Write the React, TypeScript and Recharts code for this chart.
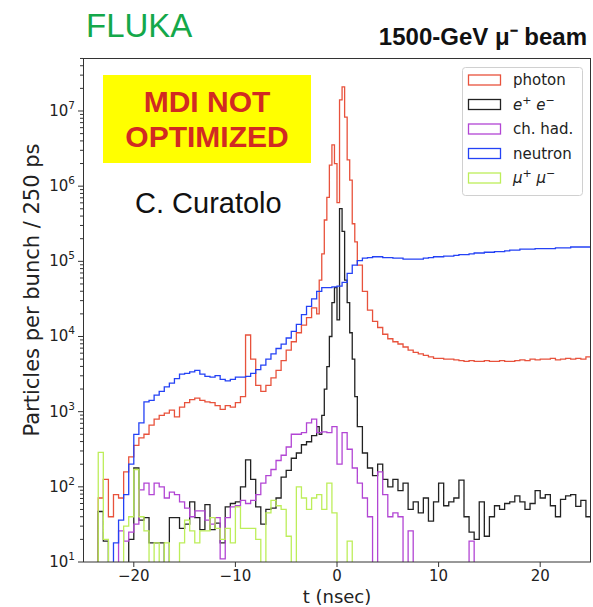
import { Line, LineChart, XAxis, YAxis } from "recharts";

const FONT = "'DejaVu Sans', sans-serif";
const ARIAL = "'Liberation Sans', Arial, sans-serif";

// 0.5 ns bins from -25 to 25 ns (100 bins); zero bins drop to the log floor
const T_START = -25;
const T_END = 25;
const BIN = 0.5;
// photon and e+e- peaks are read at 0.25 ns in [-2, 2)
const FINE_START = -2;
const FINE_END = 2;
const FINE_BIN = 0.25;

const Y_MIN = 10;
const Y_MAX = 5.07e7;
const X_TICKS = [-20, -10, 0, 10, 20];

const photon = [
  0, 0, 0, 71, 126, 40, 79, 71, 158, 251,
  355, 447, 501, 661, 794, 891, 955, 1047, 851, 1148,
  1318, 1445, 1514, 1413, 1349, 1318, 1202, 1072, 1202, 1148,
  1318, 1585, 10470, 5012, 2239, 1862, 2239, 2818, 3548, 4786,
  6607, 8511, 11220, 14130, 17780, 23990, null, null, null, null,
  null, null, null, null, 89130, 39810, 22390, 15850, 13180, 10720,
  9330, 8511, 7943, 7244, 6607, 6166, 5888, 5623, 5370, 5129,
  5129, 5012, 5012, 4898, 4786, 4677, 4786, 4677, 4677, 4786,
  4677, 4677, 4786, 4677, 4677, 4786, 4898, 4786, 5012, 4898,
  5012, 5012, 5129, 4898, 5012, 5129, 5012, 5129, 5012, 5370,
];
const photonPeak = [
  19950, 56230, 125900, 354800, 708000, 1.9e6, 3.55e6, 2.0e6,
  603000, 1.41e7, 2.09e7, 8.3e6, 2.24e6, 1.2e6, 316000, 182000,
];

const electrons = [
  0, 0, 0, 47, 19, 0, 0, 0, 0, 20,
  178, 36, 39, 18, 18, 18, 0, 39, 39, 28,
  32, 63, 39, 27, 58, 27, 33, 18, 54, 60,
  63, 100, 229, 126, 54, 32, 50, 52, 71, 135,
  166, 240, 282, 363, 398, 479, null, null, null, null,
  null, null, null, null, 631, 282, 178, 141, 200, 126,
  100, 126, 89, 112, 50, 63, 45, 71, 35, 63,
  112, 56, 63, 71, 123, 40, 25, 20, 63, 22,
  40, 56, 50, 60, 63, 76, 63, 50, 60, 89,
  71, 79, 56, 40, 68, 76, 79, 55, 66, 40,
];
const electronsPeak = [
  631, 501, 891, 1995, 3981, 10000, 28180, 44670,
  16600, 501000, 251000, 56230, 28180, 11220, 5012, 1585,
];

const hadrons = [
  0, 0, 0, 0, 0, 0, 0, 26, 19, 25,
  32, 91, 112, 79, 112, 100, 71, 85, 79, 63,
  52, 40, 48, 48, 36, 32, 39, 11, 39, 54,
  56, 66, 60, 66, 79, 112, 141, 170, 224, 263,
  339, 501, 501, 525, 708, 794, 525, 537, 525, 631,
  200, 525, 316, 178, 112, 71, 40, 0, 158, 79,
  40, 45, 40, 0, 26, 0, 0, 0, 0, 0,
  0, 0, 0, 0, 0, 0, 19, 0, 0, 0,
  0, 0, 0, 0, 0, 0, 0, 0, 0, 0,
  0, 0, 0, 0, 0, 0, 0, 0, 0, 0,
];

const neutrons = [
  0, 0, 0, 0, 0, 0, 18, 36, 79, 200,
  500, 710, 1350, 1410, 1660, 1860, 2140, 2400, 2750, 3160,
  3240, 3390, 3550, 3160, 2950, 2880, 3020, 2690, 2570, 2690,
  2880, 2880, 2950, 3240, 3630, 4170, 5010, 5890, 6920, 7940,
  9550, 11700, 14500, 19500, 25100, 31600, 39800, 44700, 44700, 45700,
  46800, 52500, 69200, 89100, 102000, 110000, 112000, 115000, 115000, 112000,
  112000, 110000, 110000, 107000, 107000, 107000, 107000, 110000, 112000, 115000,
  115000, 117000, 117000, 120000, 123000, 123000, 126000, 129000, 129000, 132000,
  132000, 135000, 135000, 138000, 141000, 141000, 145000, 145000, 145000, 148000,
  148000, 148000, 148000, 151000, 151000, 151000, 155000, 155000, 155000, 155000,
];

const muons = [
  0, 0, 0, 288, 20, 0, 0, 0, 30, 40,
  170, 40, 26, 0, 18, 0, 18, 0, 0, 18,
  36, 26, 18, 26, 26, 39, 28, 20, 28, 18,
  54, 28, 28, 28, 20, 0, 45, 66, 56, 50,
  22, 0, 100, 71, 50, 71, 79, 50, 112, 45,
  0, 0, 19, 0, 0, 0, 0, 0, 0, 0,
  0, 0, 0, 0, 0, 0, 0, 0, 0, 0,
  0, 0, 0, 0, 0, 0, 0, 0, 0, 0,
  0, 0, 0, 0, 0, 0, 0, 0, 0, 0,
  0, 0, 0, 0, 0, 0, 0, 0, 0, 0,
];

const SERIES = [
  { name: "photon", color: "#e8523c", data: photon, peak: photonPeak },
  { name: "ee", color: "#222222", data: electrons, peak: electronsPeak },
  { name: "had", color: "#b245d4", data: hadrons },
  { name: "neutron", color: "#2442f5", data: neutrons },
  { name: "mu", color: "#bdee5a", data: muons },
];

type Pt = { t: number; v: number };

// histogram outline: one point per bin start, then down to the floor at the right edge
function toSteps(coarse: (number | null)[], peak?: number[]): Pt[] {
  const pts: Pt[] = [];
  const floor = (v: number) => (v > 0 ? v : 1);
  coarse.forEach((v, i) => {
    const t = T_START + i * BIN;
    if (peak && t >= FINE_START && t < FINE_END) {
      if (t === FINE_START) {
        peak.forEach((p, j) => pts.push({ t: FINE_START + j * FINE_BIN, v: floor(p) }));
      }
      return;
    }
    pts.push({ t, v: floor(v ?? 0) });
  });
  const last = pts[pts.length - 1].v;
  pts.push({ t: T_END, v: last }, { t: T_END, v: 1 });
  return pts;
}

const yTicks: number[] = [];
for (let d = 1; d <= 7; d++) {
  for (let m = 1; m <= 9; m++) {
    const v = m * Math.pow(10, d);
    if (v <= Y_MAX) yTicks.push(v);
  }
}

const fmtX = (v: number) => (v < 0 ? `\u2212${Math.abs(v)}` : String(v));

function LogTick(props: any) {
  const { x, y, payload } = props;
  const lg = Math.log10(payload.value);
  const e = Math.round(lg);
  const major = Math.abs(lg - e) < 1e-6;
  return (
    <g>
      <line x1={x - (major ? 5 : 3)} x2={x} y1={y} y2={y} stroke="#333" strokeWidth={1} />
      {major && (
        <text x={x - 8} y={y + 5} textAnchor="end" fontSize={15} fontFamily={FONT} fill="#222">
          10
          <tspan dy={-7} fontSize={10.5}>
            {e}
          </tspan>
        </text>
      )}
    </g>
  );
}

const LEGEND = [
  { key: "photon", label: <tspan>photon</tspan> },
  {
    key: "ee",
    label: (
      <>
        <tspan fontStyle="italic">e</tspan>
        <tspan dy={-6} fontSize={11}>+</tspan>
        <tspan dy={6}> </tspan>
        <tspan fontStyle="italic">e</tspan>
        <tspan dy={-6} fontSize={11}>{"\u2212"}</tspan>
      </>
    ),
  },
  { key: "had", label: <tspan>ch. had.</tspan> },
  { key: "neutron", label: <tspan>neutron</tspan> },
  {
    key: "mu",
    label: (
      <>
        <tspan fontStyle="italic">{"\u03bc"}</tspan>
        <tspan dy={-6} fontSize={11}>+</tspan>
        <tspan dy={6}> </tspan>
        <tspan fontStyle="italic">{"\u03bc"}</tspan>
        <tspan dy={-6} fontSize={11}>{"\u2212"}</tspan>
      </>
    ),
  },
];

export default function App() {
  const colorOf = (k: string) => SERIES.find((s) => s.name === k)!.color;
  return (
    <div style={{ position: "absolute", left: 0, top: 0, width: 593, height: 607, background: "#fff" }}>
      <LineChart width={593} height={607} margin={{ top: 58, right: 2, bottom: 0, left: 0 }}>
        <XAxis
          type="number"
          dataKey="t"
          domain={[T_START, T_END]}
          ticks={X_TICKS}
          tickFormatter={fmtX}
          allowDataOverflow
          axisLine={false}
          tickSize={5}
          tickMargin={3}
          height={45}
          tick={{ fontSize: 15, fontFamily: FONT, fill: "#222" }}
          tickLine={{ stroke: "#333" }}
        />
        <YAxis
          scale="log"
          domain={[Y_MIN, Y_MAX]}
          ticks={yTicks}
          interval={0}
          allowDataOverflow
          axisLine={false}
          tickLine={false}
          tickSize={0}
          tickMargin={0}
          width={83}
          tick={<LogTick />}
        />
        {SERIES.map((s) => (
          <Line
            key={s.name}
            data={toSteps(s.data, s.peak)}
            dataKey="v"
            type="stepAfter"
            stroke={s.color}
            strokeWidth={1.3}
            dot={false}
            activeDot={false}
            isAnimationActive={false}
          />
        ))}
      </LineChart>

      <svg width={593} height={607} style={{ position: "absolute", left: 0, top: 0, pointerEvents: "none" }}>
        <rect x={83.5} y={58.5} width={507} height={503.5} fill="none" stroke="#333" strokeWidth={1} />

        <text x={86} y={37} fontSize={33} fontFamily={ARIAL} fill="#14a84a">
          FLUKA
        </text>
        <text x={587} y={45} textAnchor="end" fontSize={24} fontWeight="bold" fontFamily={ARIAL} fill="#111">
          1500-GeV {"\u03bc\u207b"} beam
        </text>

        <rect x={103} y={75} width={208} height={88} fill="#ffff00" />
        <text x={207} y={112} textAnchor="middle" fontSize={30} fontWeight="bold" fontFamily={ARIAL} fill="#d12a22">
          MDI NOT
        </text>
        <text x={207} y={147} textAnchor="middle" fontSize={30} fontWeight="bold" fontFamily={ARIAL} fill="#d12a22">
          OPTIMIZED
        </text>
        <text x={135} y={213} fontSize={29} fontFamily={ARIAL} fill="#111">
          C. Curatolo
        </text>

        <rect x={462.5} y={67.5} width={120} height={128} rx={3} fill="#fff" fillOpacity={0.85} stroke="#d0d0d0" />
        {LEGEND.map((l, i) => {
          const cy = 80 + i * 24.5;
          return (
            <g key={l.key}>
              <rect x={468.5} y={cy - 5} width={32} height={10} fill="none" stroke={colorOf(l.key)} strokeWidth={1.3} />
              <text x={513} y={cy + 5} fontSize={15} fontFamily={FONT} fill="#222">
                {l.label}
              </text>
            </g>
          );
        })}

        <text x={337} y={603} textAnchor="middle" fontSize={18} fontFamily={FONT} fill="#222">
          t (nsec)
        </text>
        <text
          transform="translate(39,290) rotate(-90)"
          textAnchor="middle"
          fontSize={21}
          fontFamily={FONT}
          fill="#222"
        >
          Particles per bunch / 250 ps
        </text>
      </svg>
    </div>
  );
}
